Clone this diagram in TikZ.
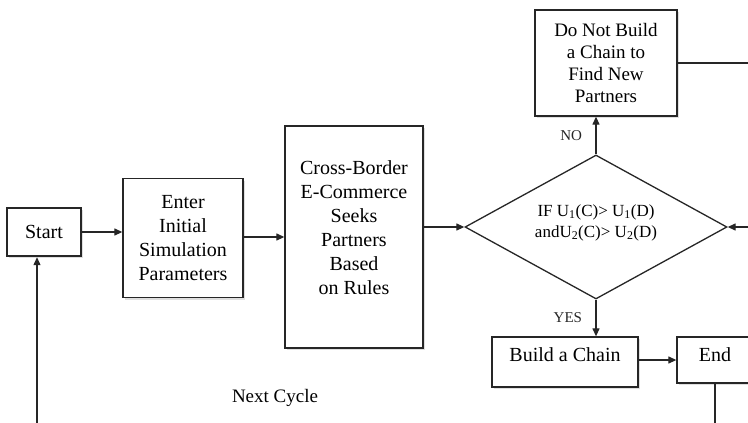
\documentclass[tikz,border=0pt]{standalone}
\usepackage{fontspec}
\setmainfont{Liberation Serif}
\usetikzlibrary{arrows.meta,positioning,shapes.geometric,shadows}
\tikzset{
  box/.style={draw=black!85, line width=1.3pt, fill=white, align=center, inner sep=2pt,
              font=\fontsize{20}{24}\selectfont,
              drop shadow={shadow xshift=2pt, shadow yshift=-2pt, opacity=0.25}},
  startbox/.style={box, line width=2.4pt},
  dec/.style={diamond, draw=black!85, line width=1.3pt, fill=white, inner sep=0pt,
              aspect=1.82, align=center, font=\fontsize{17}{21}\selectfont},
  flow/.style={-{Triangle[length=8pt,width=7pt]}, black!85, line width=1.2pt},
  plain/.style={black!85, line width=1.2pt},
  lab/.style={font=\fontsize{15}{18}\selectfont},
}
\begin{document}
\begin{tikzpicture}[x=1pt, y=-1pt]
  \useasboundingbox (0,0) rectangle (748,423);
  % boxes
  \node[startbox, minimum width=74pt, minimum height=48pt] (start) at (44,232) {Start};
  \node[box, minimum width=120pt, minimum height=119pt] (enter) at (183,238)
    {Enter\\Initial\\Simulation\\Parameters};
  \node[box, minimum width=138pt, minimum height=222pt, text depth=18pt] (seek) at (354,237)
    {Cross-Border\\E-Commerce\\Seeks\\Partners\\Based\\on Rules};
  \node[dec, minimum width=262pt, minimum height=144pt, text depth=12pt] (rule) at (596,227)
    {IF U\textsubscript{1}(C)> U\textsubscript{1}(D)\\andU\textsubscript{2}(C)> U\textsubscript{2}(D)};
  \node[box, minimum width=142pt, minimum height=106pt, font=\fontsize{19}{22}\selectfont] (nochain) at (606,63)
    {Do Not Build\\a Chain to\\Find New\\Partners};
  \node[box, minimum width=146pt, minimum height=50pt, text depth=14pt] (chain) at (565,362) {Build a Chain};
  \node[box, minimum width=76pt, minimum height=46pt, text depth=10pt] (stop) at (715,360) {End};
  \node[lab, font=\fontsize{19}{22}\selectfont] (cycle) at (275,398) {Next Cycle};
  % loose ends
  \coordinate (back) at (37,430);
  \coordinate (outtop) at (760,60);
  \coordinate (inright) at (760,227);
  \coordinate (outbot) at (715,430);
  % connectors
  \draw[flow] (back) -- (back |- start.south);
  \draw[flow] (start.east) -- (start.east -| enter.west);
  \draw[flow] (enter.east |- seek.west) -- (seek.west);
  \draw[flow] (seek.east |- rule.west) -- (rule.west);
  \draw[flow] (rule.north) -- node[lab, left=10pt] {NO} (rule.north |- nochain.south);
  \draw[flow] (rule.south) -- node[lab, left=10pt] {YES} (rule.south |- chain.north);
  \draw[flow] (chain.east |- stop.west) -- (stop.west);
  \draw[plain] (nochain.east) -- (nochain.east -| outtop);
  \draw[flow] (inright) -- (rule.east);
  \draw[plain] (stop.south) -- (outbot);
\end{tikzpicture}
\end{document}
